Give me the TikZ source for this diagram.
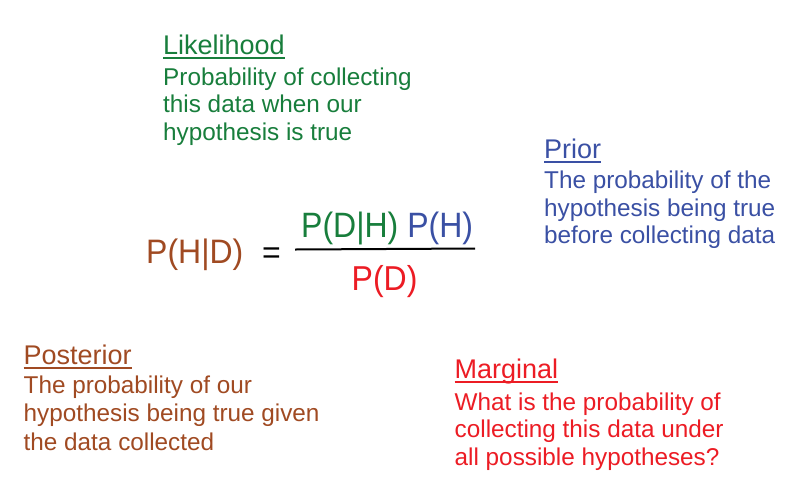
\documentclass[tikz,border=0pt]{standalone}
\usepackage{fontspec}
\setmainfont{Liberation Sans}
\definecolor{lgreen}{RGB}{24,126,60}
\definecolor{pblue}{RGB}{58,80,164}
\definecolor{pbrown}{RGB}{160,74,34}
\definecolor{mred}{RGB}{236,28,36}
\tikzset{
  body/.style={inner sep=0pt, anchor=base west, font=\fontsize{24.3}{29}\selectfont},
  head/.style={inner sep=0pt, anchor=base west, font=\fontsize{27}{32}\selectfont},
  formula/.style={inner sep=0pt, anchor=base west, font=\fontsize{32}{38}\selectfont},
  ul/.style={line width=2pt},
}
\begin{document}
\begin{tikzpicture}[x=1pt,y=-1pt]
\path[fill=white, use as bounding box] (0,0) rectangle (792,483);

% Likelihood
\node[head, text=lgreen] (lk) at (163,54) {Likelihood};
\draw[ul, lgreen] ([yshift=-3.5pt]lk.base west) -- ([yshift=-3.5pt]lk.base east);
\node[body, text=lgreen] (lk1) at (163,85) {Probability of collecting};
\node[body, text=lgreen] (lk2) at (163,112.5) {this data when our};
\node[body, text=lgreen] (lk3) at (163,140) {hypothesis is true};

% Prior
\node[head, text=pblue] (pr) at (544,158) {Prior};
\draw[ul, pblue] ([yshift=-3.5pt]pr.base west) -- ([yshift=-3.5pt]pr.base east);
\node[body, text=pblue] (pr1) at (544,188.5) {The probability of the};
\node[body, text=pblue] (pr2) at (544,216) {hypothesis being true};
\node[body, text=pblue] (pr3) at (544,243.5) {before collecting data};

% Posterior
\node[head, text=pbrown] (po) at (23.5,364) {Posterior};
\draw[ul, pbrown] ([yshift=-3.5pt]po.base west) -- ([yshift=-3.5pt]po.base east);
\node[body, text=pbrown] (po1) at (23.5,393) {The probability of our};
\node[body, text=pbrown] (po2) at (23.5,421.5) {hypothesis being true given};
\node[body, text=pbrown] (po3) at (23.5,450) {the data collected};

% Marginal
\node[head, text=mred] (mg) at (454.5,378) {Marginal};
\draw[ul, mred] ([yshift=-3.5pt]mg.base west) -- ([yshift=-3.5pt]mg.base east);
\node[body, text=mred] (mg1) at (454.5,410) {What is the probability of};
\node[body, text=mred] (mg2) at (454.5,437.5) {collecting this data under};
\node[body, text=mred] (mg3) at (454.5,465) {all possible hypotheses?};

% Formula
\node[formula, text=pbrown] (phd) at (146,263) {\scalebox{1}[1.06]{P(H|D)}};
\node[formula, text=black] (eq) at (262,263) {=};
\node[formula] (num) at (301,237.5) {\scalebox{1}[1.1]{\textcolor{lgreen}{P(D|H)} \textcolor{pblue}{P(H)}}};
\node[formula, text=mred] (den) at (351.5,290) {\scalebox{1}[1.08]{P(D)}};
\coordinate (fl) at (295,249.5);
\coordinate (fr) at (475,248.5);
\draw[line width=2pt, black] (fl) -- (fr);
\end{tikzpicture}
\end{document}
